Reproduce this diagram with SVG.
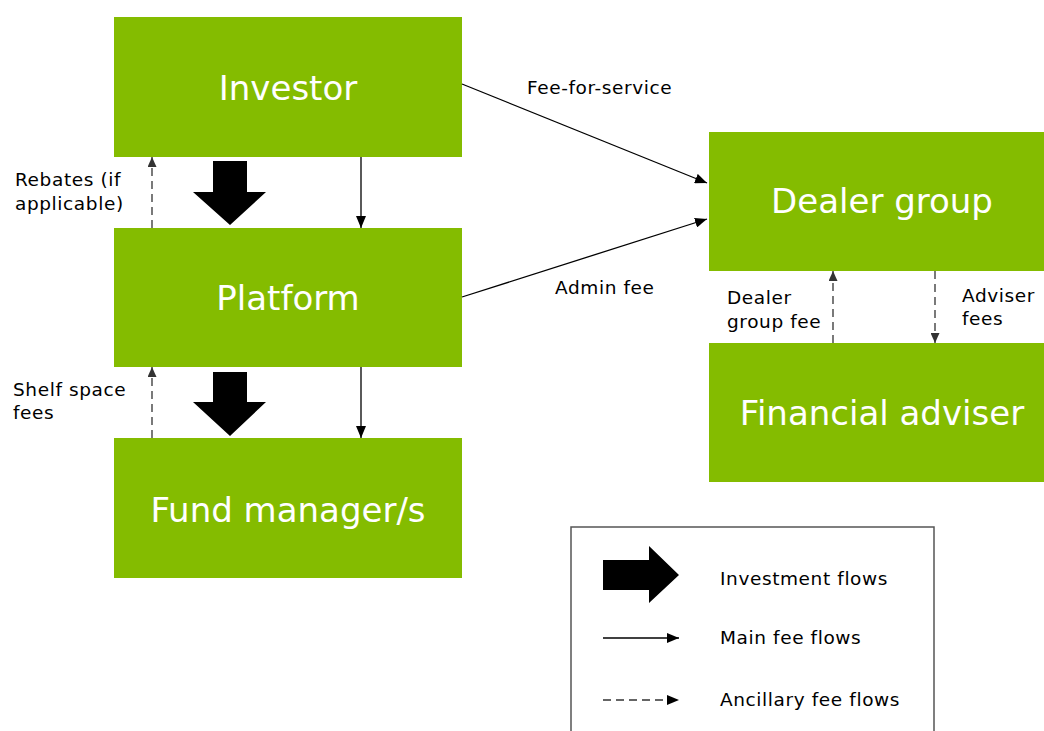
<svg xmlns="http://www.w3.org/2000/svg" width="1044" height="731" viewBox="0 0 1044 731">
<defs>
<style>
.box{fill:#84bc00}
.big{font-family:"DejaVu Sans",Verdana,sans-serif;font-size:34px;fill:#ffffff;text-anchor:middle}
.lbl{font-family:"DejaVu Sans",Verdana,sans-serif;font-size:18.5px;letter-spacing:0.6px;fill:#000000}
.main{stroke:#000;stroke-width:1.3;fill:none}
.anc{stroke:#333;stroke-width:1.3;fill:none;stroke-dasharray:8 5}
.fat{fill:#000}
</style>
<marker id="ah" viewBox="0 0 12 10" refX="12" refY="5" markerWidth="12" markerHeight="10" markerUnits="userSpaceOnUse" orient="auto">
<path d="M0,0 L12,5 L0,10 Z" fill="#000"/>
</marker>
<marker id="ahd" viewBox="0 0 10 9" refX="10" refY="4.5" markerWidth="10" markerHeight="9" markerUnits="userSpaceOnUse" orient="auto">
<path d="M0,0 L10,4.5 L0,9 Z" fill="#333"/>
</marker>
</defs>
<rect width="1044" height="731" fill="#ffffff"/>

<g id="investor"><rect class="box" x="114" y="17" width="348" height="140"/><text class="big" x="288" y="100">Investor</text></g>
<g id="platform"><rect class="box" x="114" y="228" width="348" height="139"/><text class="big" x="288" y="310">Platform</text></g>
<g id="fund-manager"><rect class="box" x="114" y="438" width="348" height="140"/><text class="big" x="288" y="522">Fund manager/s</text></g>
<g id="dealer-group"><rect class="box" x="709" y="132" width="335" height="139"/><text class="big" x="882" y="213">Dealer group</text></g>
<g id="financial-adviser"><rect class="box" x="709" y="343" width="335" height="139"/><text class="big" x="882" y="425">Financial adviser</text></g>

<g id="connectors">
<polygon class="fat" points="213,161 247,161 247,192 266,192 230,225 193,192 213,192"/>
<polygon class="fat" points="213,372 247,372 247,402 266,402 230,436 193,402 213,402"/>
<line class="main" x1="361" y1="157" x2="361" y2="228" marker-end="url(#ah)"/>
<line class="main" x1="361" y1="367" x2="361" y2="438" marker-end="url(#ah)"/>
<line class="anc" x1="152" y1="228" x2="152" y2="157" marker-end="url(#ahd)"/>
<line class="anc" x1="152" y1="438" x2="152" y2="367" marker-end="url(#ahd)"/>
<line class="main" x1="462" y1="84" x2="707" y2="183" marker-end="url(#ah)"/>
<line class="main" x1="462" y1="297" x2="707" y2="219" marker-end="url(#ah)"/>
<line class="anc" x1="833" y1="343" x2="833" y2="271" marker-end="url(#ahd)"/>
<line class="anc" x1="935" y1="271" x2="935" y2="343" marker-end="url(#ahd)"/>
</g>

<g id="labels">
<text class="lbl" x="527" y="94">Fee-for-service</text>
<text class="lbl" x="555" y="294">Admin fee</text>
<text class="lbl" x="15" y="186">Rebates (if</text>
<text class="lbl" x="15" y="210">applicable)</text>
<text class="lbl" x="13" y="396">Shelf space</text>
<text class="lbl" x="13" y="419">fees</text>
<text class="lbl" x="727" y="304">Dealer</text>
<text class="lbl" x="727" y="328">group fee</text>
<text class="lbl" x="962" y="302">Adviser</text>
<text class="lbl" x="962" y="325">fees</text>
</g>

<g id="legend">
<rect x="571" y="527" width="363" height="210" fill="none" stroke="#555" stroke-width="1.5"/>
<polygon class="fat" points="603,560 649,560 649,546 679,575 649,603 649,590 603,590"/>
<text class="lbl" x="720" y="585">Investment flows</text>
<line class="main" x1="603" y1="638" x2="679" y2="638" marker-end="url(#ah)"/>
<text class="lbl" x="720" y="644">Main  fee flows</text>
<line class="anc" x1="603" y1="700" x2="679" y2="700" marker-end="url(#ah)"/>
<text class="lbl" x="720" y="706">Ancillary  fee flows</text>
</g>
</svg>
